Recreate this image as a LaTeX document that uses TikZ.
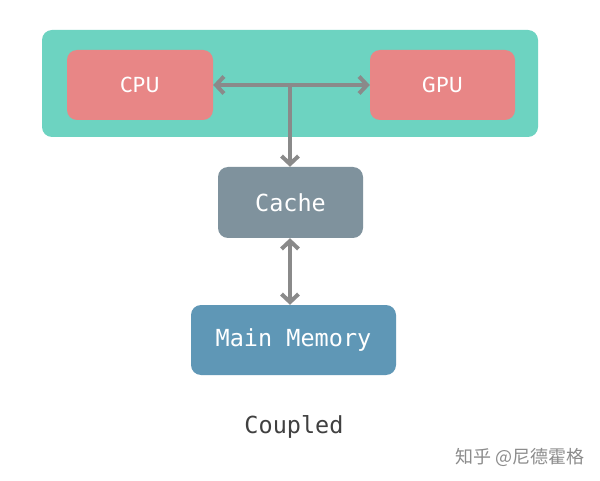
\documentclass[tikz,border=0pt]{standalone}
\usepackage{fontspec}
\setmainfont{Fira Sans}
\newfontfamily\monof{DejaVu Sans Mono}
\newfontfamily\cjk{Noto Sans CJK SC}
\usetikzlibrary{arrows.meta}
\definecolor{teal1}{HTML}{6DD3C1}
\definecolor{red1}{HTML}{E88686}
\definecolor{grey1}{HTML}{7F929D}
\definecolor{blue1}{HTML}{5F97B6}
\definecolor{arr}{HTML}{8A8A8A}
\tikzset{
 box/.style={draw=none,rounded corners=10pt,text=white,font=\fontsize{22}{26}\selectfont},
 mbox/.style={box,font=\monof\fontsize{23.5}{28}\selectfont},
 conn/.style={arr,line width=4pt,{Straight Barb[length=8pt,width=17pt]}-{Straight Barb[length=8pt,width=17pt]}},
 oneway/.style={arr,line width=4pt,-{Straight Barb[length=8pt,width=17pt]}}
}
\begin{document}
\begin{tikzpicture}[x=1pt,y=-1pt]
\useasboundingbox (0,0) rectangle (600,481);
\fill[white] (0,0) rectangle (600,481);
\node[box,fill=teal1,minimum width=496pt,minimum height=107pt] (outer) at (290,83.5) {};
\node[box,fill=red1,minimum width=146pt,minimum height=70pt] (cpu) at (140,85) {CPU};
\node[box,fill=red1,minimum width=145pt,minimum height=70pt] (gpu) at (442.5,85) {GPU};
\node[mbox,fill=grey1,minimum width=145pt,minimum height=71pt] (cache) at (290.5,202.5) {Cache};
\node[mbox,fill=blue1,minimum width=205pt,minimum height=70pt] (mem) at (293.5,340) {Main Memory};
\coordinate (j) at (290,85);
\draw[conn] (cpu.east) -- (gpu.west);
\draw[oneway] (j) -- (cache.north -| j);
\draw[conn] (cache.south -| j) -- (mem.north -| j);
\node[font=\monof\fontsize{23.5}{28}\selectfont,text=black!75] (cap) at (294,427) {Coupled};
\node[font=\cjk\fontsize{18}{21}\selectfont,text=black!45] (wm) at (520,457) {知乎 @尼德霍格};
\end{tikzpicture}
\end{document}
